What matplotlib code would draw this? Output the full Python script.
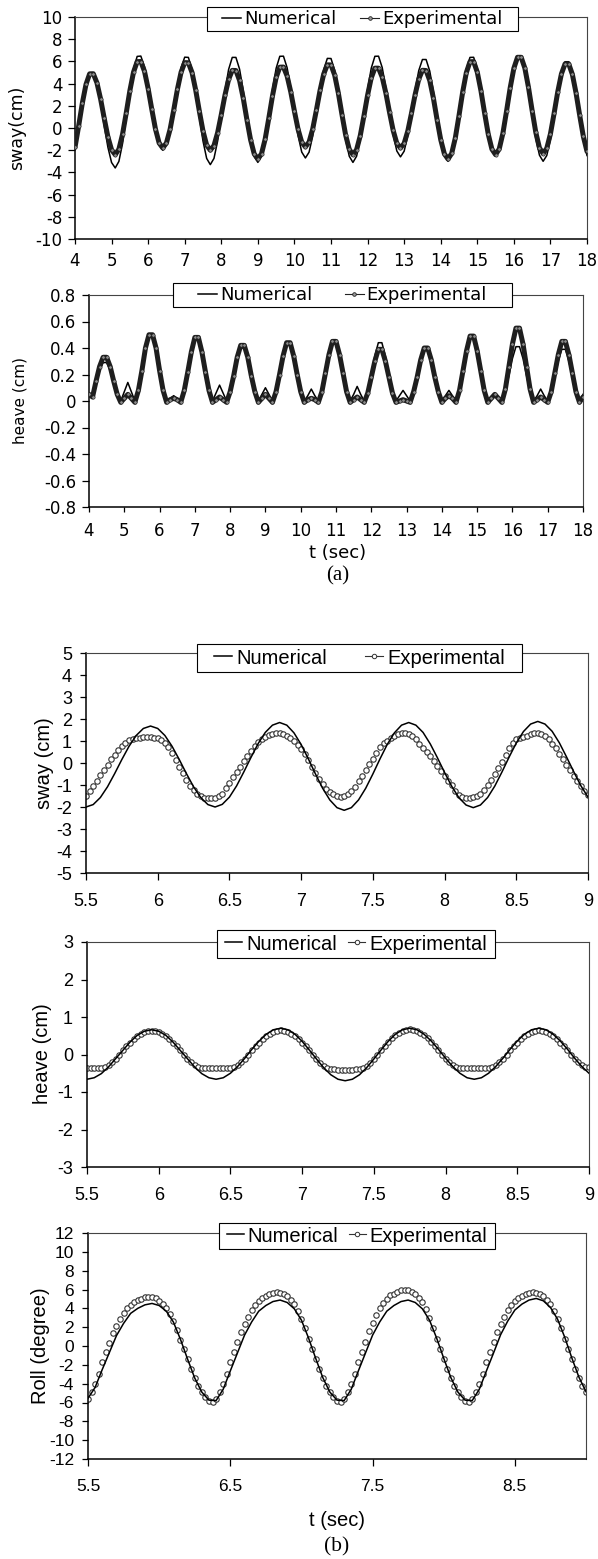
import numpy as np
import matplotlib
matplotlib.use("Agg")
import matplotlib.pyplot as plt
from matplotlib.lines import Line2D
from matplotlib.patches import Rectangle

plt.rcParams["axes.unicode_minus"] = False

W, H = 598, 1559

# ---------------- data ----------------
# (a) 4..18 s, every 0.1 s
t_a = np.round(np.linspace(4.0, 18.0, 141), 3)

sway_a_num = [
    -1.90, 0.07, 2.16, 3.90, 4.87, 4.88, 3.92, 2.23, 0.18, -1.74,
    -3.11, -3.60, -3.01, -1.40, 0.89, 3.31, 5.32, 6.45, 6.48, 5.52,
    3.83, 1.78, -0.14, -1.51, -2.00, -1.51, -0.16, 1.74, 3.76, 5.43,
    6.38, 6.36, 5.27, 3.34, 1.01, -1.18, -2.74, -3.30, -2.74, -1.18,
    1.01, 3.34, 5.27, 6.36, 6.36, 5.30, 3.40, 1.12, -1.03, -2.55,
    -3.10, -2.54, -1.00, 1.17, 3.47, 5.38, 6.46, 6.47, 5.43, 3.60,
    1.39, -0.69, -2.17, -2.70, -2.18, -0.73, 1.30, 3.47, 5.26, 6.27,
    6.26, 5.21, 3.34, 1.08, -1.05, -2.55, -3.10, -2.54, -1.00, 1.17,
    3.47, 5.38, 6.46, 6.47, 5.45, 3.63, 1.45, -0.61, -2.07, -2.60,
    -2.09, -0.68, 1.32, 3.43, 5.18, 6.17, 6.17, 5.13, 3.30, 1.09,
    -0.99, -2.47, -3.00, -2.45, -0.95, 1.18, 3.44, 5.31, 6.36, 6.37,
    5.37, 3.60, 1.46, -0.56, -1.98, -2.50, -1.98, -0.56, 1.46, 3.60,
    5.37, 6.37, 6.36, 5.31, 3.44, 1.18, -0.95, -2.45, -3.00, -2.48,
    -1.03, 1.00, 3.17, 4.96, 5.97, 5.97, 4.96, 3.17, 1.00, -1.03,
    -2.48,
]
sway_a_exp = [
    -1.74, 0.18, 2.23, 3.92, 4.88, 4.89, 4.07, 2.61, 0.86, -0.80,
    -1.97, -2.40, -1.91, -0.56, 1.34, 3.36, 5.03, 5.98, 5.99, 5.11,
    3.55, 1.68, -0.09, -1.35, -1.80, -1.35, -0.12, 1.63, 3.48, 5.02,
    5.89, 5.88, 5.00, 3.42, 1.52, -0.27, -1.54, -2.00, -1.58, -0.42,
    1.21, 2.95, 4.38, 5.19, 5.18, 4.28, 2.69, 0.76, -1.05, -2.33,
    -2.80, -2.32, -0.99, 0.90, 2.89, 4.55, 5.48, 5.49, 4.68, 3.25,
    1.51, -0.12, -1.28, -1.70, -1.27, -0.08, 1.60, 3.38, 4.86, 5.69,
    5.68, 4.77, 3.16, 1.21, -0.63, -1.93, -2.40, -1.95, -0.69, 1.08,
    2.95, 4.51, 5.39, 5.39, 4.58, 3.15, 1.41, -0.22, -1.38, -1.80,
    -1.39, -0.27, 1.32, 3.01, 4.41, 5.20, 5.18, 4.28, 2.69, 0.76,
    -1.05, -2.33, -2.80, -2.29, -0.88, 1.12, 3.23, 4.98, 5.97, 5.98,
    5.03, 3.36, 1.34, -0.56, -1.91, -2.40, -1.89, -0.48, 1.52, 3.63,
    5.38, 6.37, 6.37, 5.40, 3.66, 1.57, -0.40, -1.79, -2.30, -1.83,
    -0.53, 1.31, 3.26, 4.87, 5.78, 5.78, 4.83, 3.16, 1.14, -0.76,
    -2.11,
]
heave_a_num = [
    0.03, 0.05, 0.14, 0.23, 0.29, 0.29, 0.23, 0.14, 0.05, 0.00,
    0.07, 0.14, 0.07, 0.00, 0.08, 0.23, 0.38, 0.49, 0.49, 0.38,
    0.23, 0.08, 0.00, 0.02, 0.04, 0.02, 0.00, 0.08, 0.22, 0.36,
    0.47, 0.47, 0.36, 0.22, 0.08, 0.00, 0.06, 0.12, 0.06, 0.00,
    0.07, 0.18, 0.31, 0.40, 0.40, 0.31, 0.18, 0.07, 0.00, 0.05,
    0.10, 0.05, 0.00, 0.07, 0.20, 0.33, 0.43, 0.43, 0.33, 0.20,
    0.07, 0.00, 0.04, 0.09, 0.04, 0.00, 0.07, 0.20, 0.34, 0.44,
    0.44, 0.34, 0.20, 0.07, 0.00, 0.05, 0.11, 0.05, 0.00, 0.07,
    0.20, 0.34, 0.44, 0.44, 0.34, 0.20, 0.07, 0.00, 0.04, 0.08,
    0.04, 0.00, 0.06, 0.18, 0.30, 0.38, 0.38, 0.30, 0.18, 0.06,
    0.00, 0.04, 0.08, 0.04, 0.00, 0.08, 0.22, 0.37, 0.48, 0.48,
    0.37, 0.22, 0.08, 0.00, 0.03, 0.05, 0.03, 0.00, 0.07, 0.19,
    0.32, 0.41, 0.41, 0.32, 0.19, 0.07, 0.00, 0.04, 0.09, 0.04,
    0.00, 0.06, 0.18, 0.30, 0.39, 0.39, 0.30, 0.18, 0.06, 0.00,
    0.05,
]
heave_a_exp = [
    0.05, 0.03, 0.15, 0.26, 0.33, 0.33, 0.26, 0.15, 0.05, -0.01,
    0.02, 0.05, 0.02, -0.01, 0.08, 0.23, 0.40, 0.50, 0.50, 0.40,
    0.23, 0.08, -0.01, 0.01, 0.02, 0.01, -0.01, 0.08, 0.22, 0.37,
    0.48, 0.48, 0.37, 0.22, 0.08, -0.01, 0.01, 0.03, 0.01, -0.01,
    0.07, 0.19, 0.33, 0.42, 0.42, 0.33, 0.19, 0.07, -0.01, 0.02,
    0.05, 0.02, -0.01, 0.07, 0.20, 0.34, 0.44, 0.44, 0.34, 0.20,
    0.07, -0.01, 0.01, 0.02, 0.01, -0.01, 0.07, 0.21, 0.35, 0.45,
    0.45, 0.35, 0.21, 0.07, -0.01, 0.01, 0.03, 0.01, -0.01, 0.06,
    0.18, 0.30, 0.39, 0.39, 0.30, 0.18, 0.06, -0.01, 0.00, 0.01,
    0.00, -0.01, 0.07, 0.18, 0.31, 0.40, 0.40, 0.31, 0.18, 0.07,
    -0.01, 0.02, 0.04, 0.02, -0.01, 0.08, 0.23, 0.38, 0.49, 0.49,
    0.38, 0.23, 0.08, -0.01, 0.02, 0.05, 0.02, -0.01, 0.09, 0.26,
    0.43, 0.55, 0.55, 0.43, 0.26, 0.09, -0.01, 0.01, 0.03, 0.01,
    -0.01, 0.07, 0.21, 0.35, 0.45, 0.45, 0.35, 0.21, 0.07, -0.01,
    0.03,
]

# (b) 5.5..9 s, numerical every 0.05 s, experimental every 0.025 s
t_b_num = np.round(np.linspace(5.5, 9.0, 71), 3)
t_b_exp = np.round(np.linspace(5.5, 9.0, 141), 3)

sway_b_num = [
    -2.00, -1.89, -1.57, -1.08, -0.48, 0.16, 0.76, 1.25, 1.57, 1.68,
    1.57, 1.25, 0.76, 0.16, -0.48, -1.08, -1.57, -1.89, -2.00, -1.88,
    -1.55, -1.04, -0.41, 0.25, 0.88, 1.39, 1.72, 1.84, 1.72, 1.37,
    0.84, 0.19, -0.50, -1.15, -1.68, -2.03, -2.15, -2.03, -1.68, -1.15,
    -0.50, 0.19, 0.84, 1.37, 1.72, 1.84, 1.72, 1.39, 0.87, 0.24,
    -0.43, -1.06, -1.58, -1.91, -2.03, -1.91, -1.57, -1.05, -0.41, 0.27,
    0.91, 1.43, 1.77, 1.89, 1.77, 1.44, 0.92, 0.28, -0.39, -1.03,
    -1.55,
]
sway_b_exp = [
    -1.48, -1.28, -1.05, -0.80, -0.56, -0.33, -0.08, 0.16, 0.38, 0.58,
    0.76, 0.91, 1.03, 1.10, 1.14, 1.15, 1.16, 1.16, 1.16, 1.15,
    1.13, 1.06, 0.93, 0.72, 0.44, 0.14, -0.16, -0.46, -0.76, -1.03,
    -1.24, -1.40, -1.50, -1.57, -1.60, -1.60, -1.57, -1.50, -1.40, -1.15,
    -0.90, -0.65, -0.42, -0.18, 0.07, 0.32, 0.56, 0.78, 0.96, 1.10,
    1.20, 1.27, 1.32, 1.35, 1.35, 1.32, 1.24, 1.13, 1.00, 0.83,
    0.65, 0.40, 0.12, -0.18, -0.46, -0.72, -0.96, -1.17, -1.32, -1.43,
    -1.50, -1.54, -1.52, -1.43, -1.28, -1.08, -0.84, -0.58, -0.32, -0.06,
    0.20, 0.47, 0.72, 0.90, 1.02, 1.12, 1.22, 1.31, 1.37, 1.38,
    1.34, 1.24, 1.08, 0.88, 0.68, 0.49, 0.30, 0.10, -0.14, -0.38,
    -0.60, -0.80, -1.02, -1.28, -1.46, -1.55, -1.57, -1.57, -1.56, -1.52,
    -1.42, -1.24, -1.02, -0.76, -0.50, -0.22, 0.06, 0.36, 0.66, 0.92,
    1.07, 1.13, 1.16, 1.22, 1.30, 1.36, 1.37, 1.33, 1.23, 1.08,
    0.88, 0.66, 0.42, 0.18, -0.08, -0.34, -0.60, -0.84, -1.06, -1.26,
    -1.44,
]
heave_b_num = [
    -0.66, -0.62, -0.51, -0.33, -0.11, 0.11, 0.33, 0.51, 0.62, 0.66,
    0.62, 0.51, 0.33, 0.11, -0.11, -0.33, -0.51, -0.62, -0.66, -0.62,
    -0.50, -0.32, -0.10, 0.14, 0.36, 0.54, 0.66, 0.70, 0.66, 0.54,
    0.35, 0.12, -0.12, -0.35, -0.54, -0.66, -0.70, -0.66, -0.54, -0.35,
    -0.12, 0.12, 0.35, 0.54, 0.66, 0.70, 0.66, 0.54, 0.36, 0.14,
    -0.10, -0.32, -0.50, -0.62, -0.66, -0.62, -0.50, -0.32, -0.10, 0.14,
    0.36, 0.54, 0.66, 0.70, 0.66, 0.54, 0.36, 0.14, -0.10, -0.32,
    -0.50,
]
heave_b_exp = [
    -0.37, -0.37, -0.37, -0.365, -0.355, -0.33, -0.28, -0.21, -0.11, 0.00,
    0.11, 0.22, 0.32, 0.41, 0.49, 0.55, 0.60, 0.62, 0.63, 0.62,
    0.60, 0.55, 0.49, 0.41, 0.32, 0.22, 0.11, 0.00, -0.11, -0.21,
    -0.28, -0.33, -0.355, -0.365, -0.37, -0.37, -0.37, -0.37, -0.37, -0.365,
    -0.355, -0.33, -0.28, -0.21, -0.11, 0.00, 0.11, 0.22, 0.32, 0.42,
    0.50, 0.56, 0.61, 0.64, 0.65, 0.64, 0.61, 0.56, 0.50, 0.42,
    0.32, 0.22, 0.11, 0.00, -0.11, -0.22, -0.30, -0.35, -0.38, -0.39,
    -0.40, -0.40, -0.40, -0.40, -0.40, -0.39, -0.38, -0.35, -0.30, -0.22,
    -0.11, 0.00, 0.11, 0.23, 0.33, 0.43, 0.51, 0.58, 0.63, 0.66,
    0.67, 0.66, 0.63, 0.58, 0.51, 0.43, 0.33, 0.23, 0.11, 0.00,
    -0.11, -0.21, -0.28, -0.33, -0.355, -0.365, -0.37, -0.37, -0.37, -0.37,
    -0.37, -0.365, -0.355, -0.33, -0.28, -0.21, -0.11, 0.00, 0.11, 0.22,
    0.32, 0.42, 0.50, 0.56, 0.61, 0.64, 0.65, 0.64, 0.61, 0.56,
    0.50, 0.42, 0.32, 0.22, 0.11, 0.00, -0.11, -0.21, -0.28, -0.32,
    -0.34,
]
roll_b_num = [
    -5.55, -4.40, -2.50, -0.70, 1.10, 2.40, 3.47, 4.00, 4.37, 4.52,
    4.30, 3.70, 2.55, 0.70, -1.40, -3.40, -4.90, -5.75, -5.80, -4.60,
    -2.65, -0.75, 1.15, 2.55, 3.70, 4.30, 4.72, 4.88, 4.62, 3.95,
    2.75, 0.85, -1.30, -3.35, -4.90, -5.75, -5.80, -4.60, -2.65, -0.75,
    1.15, 2.55, 3.70, 4.30, 4.72, 4.88, 4.62, 3.95, 2.75, 0.85,
    -1.30, -3.35, -4.90, -5.75, -5.80, -4.60, -2.65, -0.75, 1.20, 2.65,
    3.82, 4.45, 4.88, 5.05, 4.80, 4.10, 2.85, 0.95, -1.25, -3.30,
    -4.85,
]
roll_b_exp = [
    -5.66, -4.87, -4.08, -2.95, -1.75, -0.65, 0.36, 1.37, 2.17, 2.85,
    3.53, 3.99, 4.35, 4.70, 4.87, 5.04, 5.17, 5.20, 5.18, 5.05,
    4.82, 4.50, 4.05, 3.40, 2.62, 1.70, 0.66, -0.35, -1.38, -2.40,
    -3.35, -4.20, -4.90, -5.45, -5.80, -5.90, -5.66, -4.87, -4.08, -2.95,
    -1.75, -0.65, 0.39, 1.50, 2.38, 3.12, 3.87, 4.37, 4.77, 5.15,
    5.34, 5.52, 5.67, 5.70, 5.68, 5.53, 5.28, 4.93, 4.44, 3.73,
    2.87, 1.86, 0.72, -0.35, -1.38, -2.40, -3.35, -4.20, -4.90, -5.45,
    -5.80, -5.90, -5.66, -4.87, -4.08, -2.95, -1.75, -0.65, 0.41, 1.57,
    2.48, 3.26, 4.04, 4.56, 4.98, 5.38, 5.57, 5.77, 5.92, 5.95,
    5.93, 5.78, 5.51, 5.15, 4.63, 3.89, 3.00, 1.94, 0.76, -0.35,
    -1.38, -2.40, -3.35, -4.20, -4.90, -5.45, -5.80, -5.90, -5.66, -4.87,
    -4.08, -2.95, -1.75, -0.65, 0.39, 1.50, 2.38, 3.12, 3.87, 4.37,
    4.77, 5.15, 5.34, 5.52, 5.67, 5.70, 5.68, 5.53, 5.28, 4.93,
    4.44, 3.73, 2.87, 1.86, 0.72, -0.35, -1.38, -2.40, -3.35, -4.20,
    -4.90,
]

for name, t, v in [("sway_a_num", t_a, sway_a_num), ("sway_a_exp", t_a, sway_a_exp),
                   ("heave_a_num", t_a, heave_a_num), ("heave_a_exp", t_a, heave_a_exp),
                   ("sway_b_num", t_b_num, sway_b_num), ("sway_b_exp", t_b_exp, sway_b_exp),
                   ("heave_b_num", t_b_num, heave_b_num), ("heave_b_exp", t_b_exp, heave_b_exp),
                   ("roll_b_num", t_b_num, roll_b_num), ("roll_b_exp", t_b_exp, roll_b_exp)]:
    assert len(t) == len(v), (name, len(t), len(v))

# tick labels
xt_a = list(range(4, 19))
yt_sway_a = list(range(-10, 11, 2))
yt_heave_a = [-0.8, -0.6, -0.4, -0.2, 0, 0.2, 0.4, 0.6, 0.8]
yl_heave_a = ["-0.8", "-0.6", "-0.4", "-0.2", "0", "0.2", "0.4", "0.6", "0.8"]
xt_b = [5.5, 6, 6.5, 7, 7.5, 8, 8.5, 9]
xl_b = ["5.5", "6", "6.5", "7", "7.5", "8", "8.5", "9"]
xt_roll = [5.5, 6.5, 7.5, 8.5]
xl_roll = ["5.5", "6.5", "7.5", "8.5"]
yt_sway_b = list(range(-5, 6))
yt_heave_b = list(range(-3, 4))
yt_roll = list(range(-12, 13, 2))

FA = "DejaVu Sans"       # section (a) text looks wide
FB = "Liberation Sans"   # section (b)
FS = "Liberation Serif"


def fbox(x0, y0, x1, y1):
    return [x0 / W, 1 - y1 / H, (x1 - x0) / W, (y1 - y0) / H]


def fpt(x, y):
    return (x / W, 1 - y / H)


fig = plt.figure(figsize=(W / 100, H / 100), dpi=100)
fig.patch.set_facecolor("white")


def make_axes(rect, xlim, ylim, xt, xl, yt, yl, fam, fs, xpad, ypad, xlen, ylen):
    ax = fig.add_axes(fbox(*rect))
    ax.set_xlim(*xlim)
    ax.set_ylim(*ylim)
    ax.set_xticks(xt)
    ax.set_xticklabels([str(v) for v in xl])
    ax.set_yticks(yt)
    ax.set_yticklabels([str(v) for v in yl])
    ax.tick_params(axis="both", direction="out", width=0.9, labelsize=fs,
                   labelfontfamily=fam, top=False, right=False)
    ax.tick_params(axis="x", pad=xpad, length=xlen)
    ax.tick_params(axis="y", pad=ypad, length=ylen)
    for s in ("top", "right"):
        ax.spines[s].set_linewidth(0.8)
        ax.spines[s].set_color("#444444")
    for s in ("left", "bottom"):
        ax.spines[s].set_linewidth(1.1)
    return ax


def add_legend(box, section, fam, fs, hl, htp, cs):
    x0, y0, x1, y1 = box
    fig.add_artist(Rectangle(fpt(x0, y1), (x1 - x0) / W, (y1 - y0) / H,
                             transform=fig.transFigure, facecolor="white",
                             edgecolor="black", lw=0.8, zorder=5))
    h_num = Line2D([], [], color="black", lw=1.1)
    if section == "a":
        h_exp = Line2D([], [], color="#222222", lw=0.8, marker="o", ms=2.6,
                       mfc="#999999", mec="#222222", mew=0.6)
    else:
        h_exp = Line2D([], [], color="#333333", lw=0.8, marker="o", ms=3.2,
                       mfc="white", mec="#333333", mew=0.7)
    leg = fig.legend([h_num, h_exp], ["Numerical", "Experimental"], loc="center",
                     bbox_to_anchor=fpt((x0 + x1) / 2, (y0 + y1) / 2),
                     bbox_transform=fig.transFigure, ncol=2, frameon=False,
                     prop={"family": fam, "size": fs}, handlelength=hl,
                     handletextpad=htp, columnspacing=cs, borderpad=0,
                     borderaxespad=0, numpoints=1)
    leg.set_zorder(10)


def plot_a(ax, t, num, exp):
    ax.plot(t, num, color="black", lw=1.1, zorder=2)
    ax.plot(t, exp, color="#1e1e1e", lw=3.6, zorder=3, solid_capstyle="round",
            solid_joinstyle="round")
    ax.plot(t, exp, ls="none", marker="o", ms=2.4, mfc="#8c8c8c", mec="#1e1e1e",
            mew=0.4, zorder=4)


def plot_b(ax, tn, num, te, exp):
    ax.plot(te, exp, ls="none", marker="o", ms=3.9, mfc="white", mec="#333333",
            mew=0.8, zorder=2)
    ax.plot(tn, num, color="black", lw=1.1, zorder=3)


# ---- (a) sway
ax1 = make_axes((75, 17, 587, 239), (4, 18), (-10, 10), xt_a, xt_a,
                yt_sway_a, yt_sway_a, FA, 12, 6, 4, 3.5, 5)
plot_a(ax1, t_a, sway_a_num, sway_a_exp)
fig.text(*fpt(17, 128), "sway(cm)", rotation=90, ha="center", va="center",
         family=FA, fontsize=12.5)
add_legend((207, 7, 518, 31), "a", FA, 13, 1.05, 0.2, 1.3)

# ---- (a) heave
ax2 = make_axes((89, 295, 583, 507), (4, 18), (-0.8, 0.8), xt_a, xt_a,
                yt_heave_a, yl_heave_a, FA, 12, 7, 4, 3.5, 5)
plot_a(ax2, t_a, heave_a_num, heave_a_exp)
fig.text(*fpt(20, 401), "heave (cm)", rotation=90, ha="center", va="center",
         family=FA, fontsize=11)
add_legend((173, 283, 512, 307), "a", FA, 13, 1.05, 0.15, 1.8)
fig.text(*fpt(338, 553), "t (sec)", ha="center", va="center", family=FA, fontsize=13)
fig.text(*fpt(338, 576), "(a)", ha="center", va="center", family=FS, fontsize=15)

# ---- (b) sway
ax3 = make_axes((86, 653, 588, 873), (5.5, 9), (-5, 5), xt_b, xl_b,
                yt_sway_b, yt_sway_b, FB, 13, 9.5, 5.5, 5, 4.5)
plot_b(ax3, t_b_num, sway_b_num, t_b_exp, sway_b_exp)
fig.text(*fpt(45, 763), "sway (cm)", rotation=90, ha="center", va="center",
         family=FB, fontsize=14.5)
add_legend((197, 644, 522, 672), "b", FB, 14.5, 0.9, 0.2, 1.9)

# ---- (b) heave
ax4 = make_axes((87, 942, 589, 1167), (5.5, 9), (-3, 3), xt_b, xl_b,
                yt_heave_b, yt_heave_b, FB, 13, 9.5, 5.5, 5, 4.5)
plot_b(ax4, t_b_num, heave_b_num, t_b_exp, heave_b_exp)
fig.text(*fpt(43, 1054), "heave (cm)", rotation=90, ha="center", va="center",
         family=FB, fontsize=14.5)
add_legend((217, 930, 495, 958), "b", FB, 14.5, 0.85, 0.2, 0.55)

# ---- (b) roll
ax5 = make_axes((88, 1233, 586, 1459), (5.5, 9), (-12, 12), xt_roll, xl_roll,
                yt_roll, yt_roll, FB, 12.5, 9.5, 6, 5, 4)
plot_b(ax5, t_b_num, roll_b_num, t_b_exp, roll_b_exp)
fig.text(*fpt(41, 1346), "Roll (degree)", rotation=90, ha="center", va="center",
         family=FB, fontsize=14.5)
add_legend((219, 1223, 495, 1249), "b", FB, 14.5, 0.85, 0.2, 0.5)
fig.text(*fpt(337, 1520), "t (sec)", ha="center", va="center", family=FB, fontsize=14.5)
fig.text(*fpt(337, 1547), "(b)", ha="center", va="center", family=FS, fontsize=15.5)

fig.savefig("out.png", dpi=100, facecolor="white")
